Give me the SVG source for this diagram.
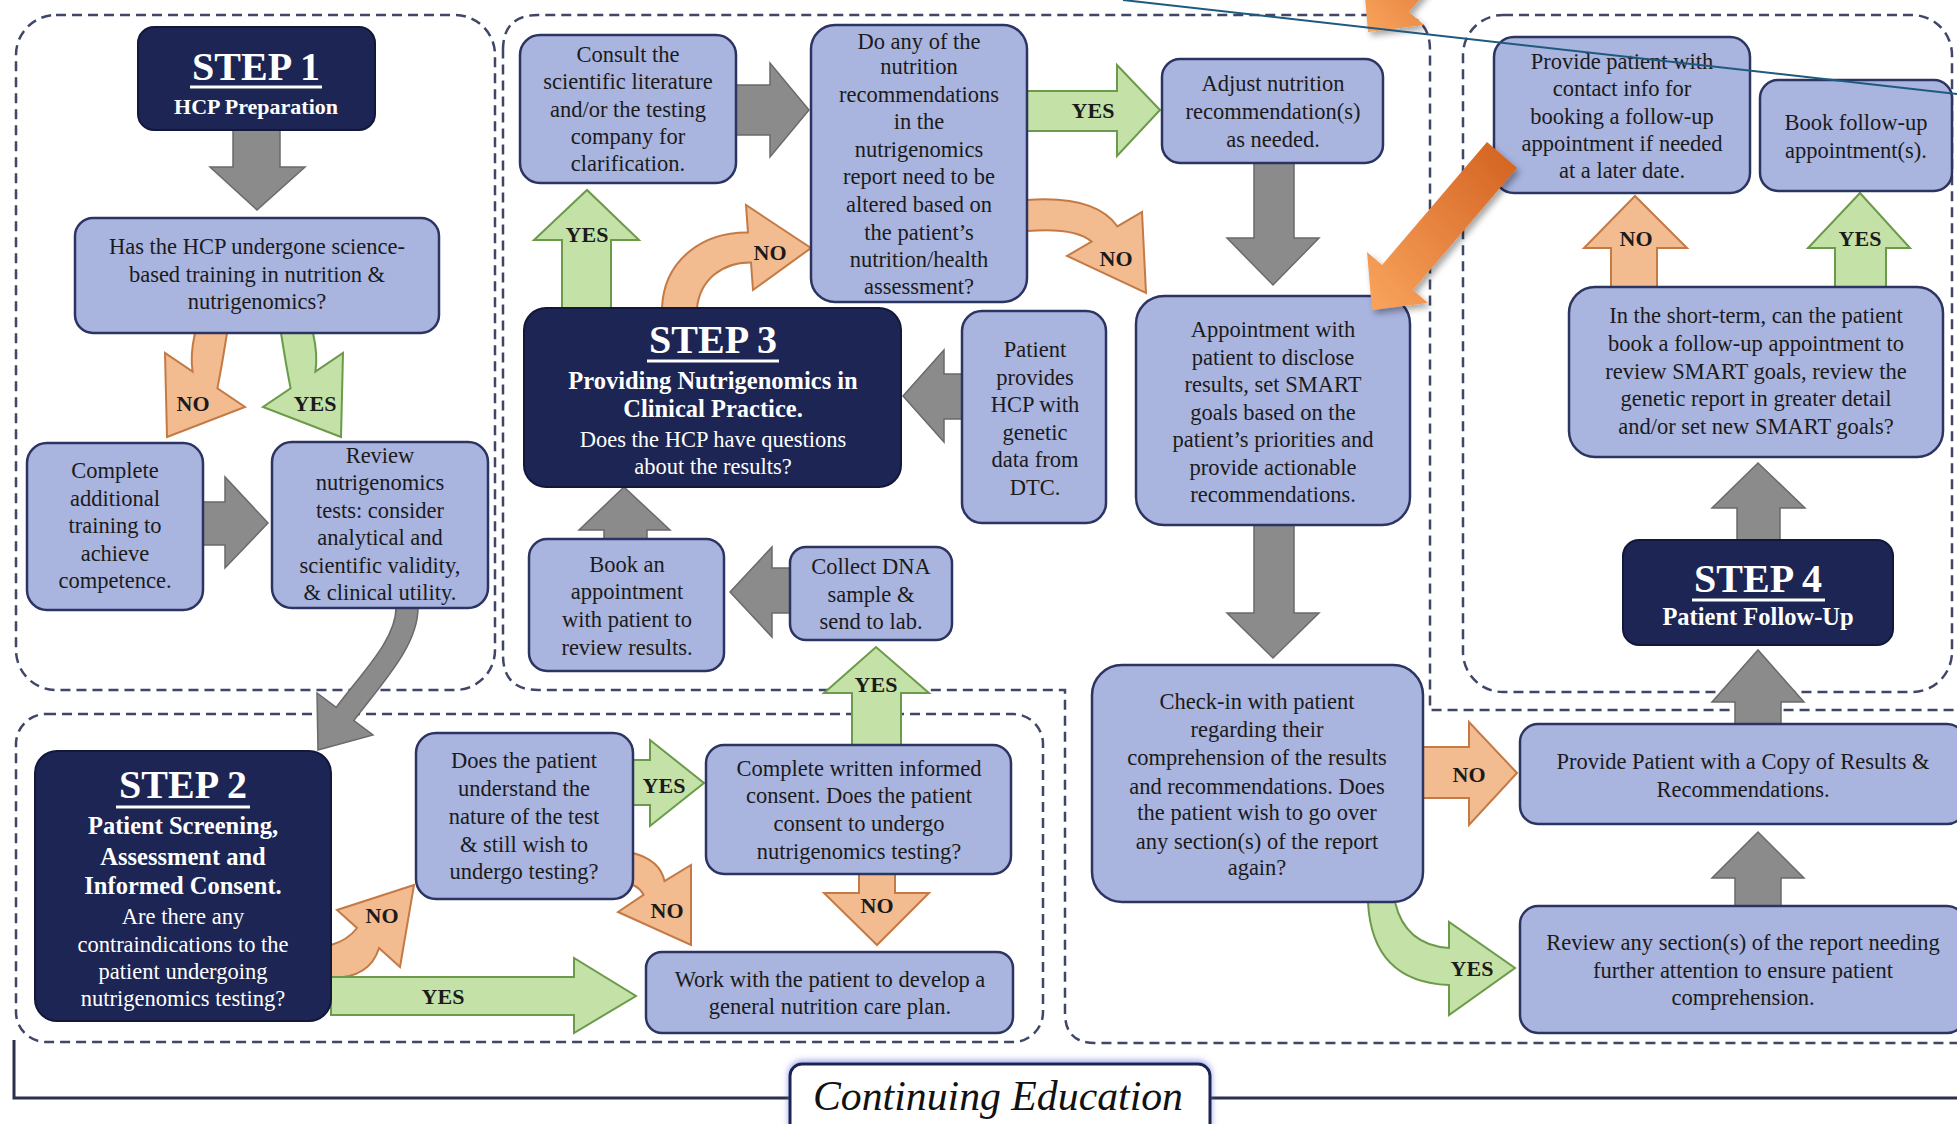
<svg xmlns="http://www.w3.org/2000/svg" width="1957" height="1124" viewBox="0 0 1957 1124">
<style>
.region{fill:none;stroke:#3f4668;stroke-width:2.5;stroke-dasharray:10 6}
.box{fill:#a9b4df;stroke:#2c3462;stroke-width:2.5}
.step{fill:#1c2553;stroke:#11183a;stroke-width:2}
.gray{fill:#8b8b8b;stroke:#6a6a6a;stroke-width:1.5}
.no{fill:#f3bb90;stroke:#c47a45;stroke-width:2}
.yes{fill:#c4e1a7;stroke:#6b9a4a;stroke-width:2}
text{font-family:"Liberation Serif","Times New Roman",serif}
.t{font-size:22.5px;fill:#1b1b1b;text-anchor:middle}
.st{font-size:40px;font-weight:bold;fill:#ffffff;text-anchor:middle}
.sb{font-size:24.5px;font-weight:bold;fill:#ffffff;text-anchor:middle}
.sw{font-size:22.5px;fill:#ffffff;text-anchor:middle}
.lb{font-size:22px;font-weight:bold;fill:#1b1b1b;text-anchor:middle}
.ul{stroke:#ffffff;stroke-width:3}
</style>
<defs>
<linearGradient id="og" x1="1" y1="0" x2="0" y2="1">
<stop offset="0" stop-color="#d2601e"/>
<stop offset="1" stop-color="#f9a55e"/>
</linearGradient>
<filter id="sh" x="-20%" y="-20%" width="140%" height="140%">
<feDropShadow dx="3" dy="4" stdDeviation="3" flood-color="#000" flood-opacity="0.35"/>
</filter>
<filter id="glow" x="-10%" y="-30%" width="120%" height="160%">
<feDropShadow dx="0" dy="-2" stdDeviation="3" flood-color="#5a6bd0" flood-opacity="0.6"/>
</filter>
</defs>
<rect width="1957" height="1124" fill="#ffffff"/>

<g id="regions">
<rect class="region" x="16" y="15" width="479" height="675" rx="40"/>
<rect class="region" x="16" y="714" width="1027" height="328" rx="30"/>
<rect class="region" x="1463" y="15" width="489" height="677" rx="40"/>
<path class="region" d="M503,50 Q503,15 538,15 L1395,15 Q1430,15 1430,50 L1430,710 L1985,710 L1985,1043 L1095,1043 Q1065,1043 1065,1013 L1065,690 L538,690 Q503,690 503,655 Z"/>
</g>

<g id="continuing-education">
<path d="M14,1040 L14,1098 L790,1098 M1210,1098 L1957,1098" fill="none" stroke="#2a2f4a" stroke-width="3"/>
<rect x="790" y="1064" width="420" height="80" rx="12" fill="#ffffff" stroke="#1b2452" stroke-width="3" filter="url(#glow)"/>
<text x="998" y="1110" font-size="42" font-style="italic" fill="#111" text-anchor="middle" textLength="370" lengthAdjust="spacingAndGlyphs">Continuing Education</text>
</g>

<g id="connectors">
<!-- Step 1 -->
<polygon class="gray" points="233,130 280,130 280,167 305,167 257,210 210,167 233,167"/>
<path class="no" d="M195,333 Q190,355 192.6,371.6 L165,353 L167,437 L245,407 L217.4,388.4 Q222,365 227,333 Z"/>
<text class="lb" x="193" y="411">NO</text>
<path class="yes" d="M313,333 Q318,355 315.4,371.6 L343,353 L341,437 L263,407 L290.6,388.4 Q286,365 281,333 Z"/>
<text class="lb" x="315" y="411">YES</text>
<polygon class="gray" points="203,502 225,502 225,477 268,523 225,568 225,545 203,545"/>
<path class="gray" d="M396,608 C396,640 360,675 336.2,707.4 L317,693 L318,750 L373,735 L353.8,720.6 C384,681 418,645 418,608 Z"/>
<!-- Step 2 -->
<path class="no" d="M331,945 Q348,940 357,928 L337,910 L414,885 L400,967 L379,948 Q370,978 331,978 Z"/>
<text class="lb" x="382" y="923">NO</text>
<polygon class="yes" points="331,977 574,977 574,958 636,996 574,1033 574,1015 331,1015"/>
<text class="lb" x="443" y="1004">YES</text>
<polygon class="yes" points="633,760 650,760 650,740 704,783 650,826 650,805 633,805"/>
<text class="lb" x="664" y="793">YES</text>
<path class="no" d="M633,853 Q660,860 664.5,881.2 L691,865 L691,945 L618,912 L643.5,894.8 Q640,888 633,885 Z"/>
<text class="lb" x="667" y="918">NO</text>
<polygon class="no" points="859,874 895,874 895,893 929,893 877,945 824,893 859,893"/>
<text class="lb" x="877" y="913">NO</text>
<polygon class="yes" points="852,745 852,693 824,693 876,647 929,693 901,693 901,745"/>
<text class="lb" x="876" y="692">YES</text>
<!-- Step 3 -->
<polygon class="gray" points="604,539 604,530 579,530 624,487 670,530 647,530 647,539"/>
<polygon class="gray" points="790,568 772,568 772,547 730,592 772,637 772,613 790,613"/>
<polygon class="gray" points="962,374 944,374 944,350 903,396 944,442 944,419 962,419"/>
<polygon class="yes" points="562,308 562,240 534,240 587,190 639,240 611,240 611,308"/>
<text class="lb" x="587" y="242">YES</text>
<path class="no" d="M662,308 C664,258 705,232 748,232.6 L746,205 L811,248 L753,290 L751,262.4 C722,262 700,280 697,308 Z"/>
<text class="lb" x="770" y="260">NO</text>
<polygon class="gray" points="736,85 770,85 770,63 809,110 770,157 770,135 736,135"/>
<polygon class="yes" points="1027,91 1117,91 1117,65 1160,110 1117,156 1117,131 1027,131"/>
<text class="lb" x="1093" y="118">YES</text>
<path class="no" d="M1027,200 Q1095,195 1117.4,226.4 L1142,212 L1146,293 L1067,256 L1091.6,241.6 Q1075,227 1027,231 Z"/>
<text class="lb" x="1116" y="266">NO</text>
<polygon class="gray" points="1254,163 1294,163 1294,238 1319,238 1273,285 1227,238 1254,238"/>
<polygon class="gray" points="1254,524 1294,524 1294,613 1319,613 1273,658 1227,613 1254,613"/>
<polygon class="no" points="1423,747 1469,747 1469,722 1517,773 1469,825 1469,798 1423,798"/>
<text class="lb" x="1469" y="782">NO</text>
<path class="yes" d="M1368,902 Q1372,982 1449,985 L1449,1015 L1515,968 L1449,922 L1449,948 Q1405,945 1395,902 Z"/>
<text class="lb" x="1472" y="976">YES</text>
<polygon class="gray" points="1735,906 1735,878 1712,878 1758,832 1804,878 1781,878 1781,906"/>
<polygon class="gray" points="1735,725 1735,702 1712,702 1758,650 1804,702 1781,702 1781,725"/>
<!-- Step 4 -->
<polygon class="gray" points="1737,540 1737,508 1712,508 1758,463 1805,508 1780,508 1780,540"/>
<polygon class="no" points="1611,287 1611,248 1584,248 1635,196 1687,248 1657,248 1657,287"/>
<text class="lb" x="1636" y="246">NO</text>
<polygon class="yes" points="1835,287 1835,248 1808,248 1860,193 1910,248 1886,248 1886,287"/>
<text class="lb" x="1860" y="246">YES</text>
</g>

<g id="step1"><rect class="step" x="138" y="27" width="237" height="103" rx="16"/>
<text class="st" x="256" y="80">STEP 1</text><line class="ul" x1="190" y1="87" x2="322" y2="87"/>
<text class="sb" x="256" y="114" style="font-size:22px">HCP Preparation</text></g>

<g id="q-training"><rect class="box" x="75" y="218" width="364" height="115" rx="18"/>
<text class="t" x="257" y="254">Has the HCP undergone science-</text>
<text class="t" x="257" y="282">based training in nutrition &amp;</text>
<text class="t" x="257" y="309">nutrigenomics?</text></g>

<g id="complete-training"><rect class="box" x="27" y="443" width="176" height="167" rx="20"/>
<text class="t" x="115" y="478">Complete</text>
<text class="t" x="115" y="506">additional</text>
<text class="t" x="115" y="533">training to</text>
<text class="t" x="115" y="561">achieve</text>
<text class="t" x="115" y="588">competence.</text></g>

<g id="review-tests"><rect class="box" x="272" y="442" width="216" height="166" rx="20"/>
<text class="t" x="380" y="463">Review</text>
<text class="t" x="380" y="490">nutrigenomics</text>
<text class="t" x="380" y="518">tests: consider</text>
<text class="t" x="380" y="545">analytical and</text>
<text class="t" x="380" y="573">scientific validity,</text>
<text class="t" x="380" y="600">&amp; clinical utility.</text></g>

<g id="step2"><rect class="step" x="35" y="751" width="296" height="270" rx="22"/>
<text class="st" x="183" y="798">STEP 2</text><line class="ul" x1="116" y1="807" x2="250" y2="807"/>
<text class="sb" x="183" y="834">Patient Screening,</text>
<text class="sb" x="183" y="865">Assessment and</text>
<text class="sb" x="183" y="894">Informed Consent.</text>
<text class="sw" x="183" y="924">Are there any</text>
<text class="sw" x="183" y="952">contraindications to the</text>
<text class="sw" x="183" y="979">patient undergoing</text>
<text class="sw" x="183" y="1006">nutrigenomics testing?</text></g>

<g id="q-understand"><rect class="box" x="416" y="733" width="217" height="166" rx="20"/>
<text class="t" x="524" y="768">Does the patient</text>
<text class="t" x="524" y="796">understand the</text>
<text class="t" x="524" y="824">nature of the test</text>
<text class="t" x="524" y="852">&amp; still wish to</text>
<text class="t" x="524" y="879">undergo testing?</text></g>

<g id="q-consent"><rect class="box" x="706" y="745" width="305" height="129" rx="18"/>
<text class="t" x="859" y="776">Complete written informed</text>
<text class="t" x="859" y="803">consent. Does the patient</text>
<text class="t" x="859" y="831">consent to undergo</text>
<text class="t" x="859" y="859">nutrigenomics testing?</text></g>

<g id="care-plan"><rect class="box" x="646" y="952" width="367" height="81" rx="16"/>
<text class="t" x="830" y="987">Work with the patient to develop a</text>
<text class="t" x="830" y="1014">general nutrition care plan.</text></g>

<g id="consult"><rect class="box" x="520" y="35" width="216" height="148" rx="20"/>
<text class="t" x="628" y="62">Consult the</text>
<text class="t" x="628" y="89">scientific literature</text>
<text class="t" x="628" y="117">and/or the testing</text>
<text class="t" x="628" y="144">company for</text>
<text class="t" x="628" y="171">clarification.</text></g>

<g id="q-alter"><rect class="box" x="811" y="25" width="216" height="277" rx="24"/>
<text class="t" x="919" y="49">Do any of the</text>
<text class="t" x="919" y="74">nutrition</text>
<text class="t" x="919" y="102">recommendations</text>
<text class="t" x="919" y="129">in the</text>
<text class="t" x="919" y="157">nutrigenomics</text>
<text class="t" x="919" y="184">report need to be</text>
<text class="t" x="919" y="212">altered based on</text>
<text class="t" x="919" y="240">the patient’s</text>
<text class="t" x="919" y="267">nutrition/health</text>
<text class="t" x="919" y="294">assessment?</text></g>

<g id="adjust"><rect class="box" x="1162" y="59" width="221" height="104" rx="18"/>
<text class="t" x="1273" y="91">Adjust nutrition</text>
<text class="t" x="1273" y="119">recommendation(s)</text>
<text class="t" x="1273" y="147">as needed.</text></g>

<g id="step3"><rect class="step" x="524" y="308" width="377" height="179" rx="22"/>
<text class="st" x="713" y="353">STEP 3</text><line class="ul" x1="647" y1="361" x2="779" y2="361"/>
<text class="sb" x="713" y="389">Providing Nutrigenomics in</text>
<text class="sb" x="713" y="417">Clinical Practice.</text>
<text class="sw" x="713" y="447">Does the HCP have questions</text>
<text class="sw" x="713" y="474">about the results?</text></g>

<g id="dtc"><rect class="box" x="962" y="311" width="144" height="212" rx="20"/>
<text class="t" x="1035" y="357">Patient</text>
<text class="t" x="1035" y="385">provides</text>
<text class="t" x="1035" y="412">HCP with</text>
<text class="t" x="1035" y="440">genetic</text>
<text class="t" x="1035" y="467">data from</text>
<text class="t" x="1035" y="495">DTC.</text></g>

<g id="book-appointment"><rect class="box" x="529" y="539" width="195" height="132" rx="18"/>
<text class="t" x="627" y="572">Book an</text>
<text class="t" x="627" y="599">appointment</text>
<text class="t" x="627" y="627">with patient to</text>
<text class="t" x="627" y="655">review results.</text></g>

<g id="collect-dna"><rect class="box" x="790" y="547" width="162" height="93" rx="16"/>
<text class="t" x="871" y="574">Collect DNA</text>
<text class="t" x="871" y="602">sample &amp;</text>
<text class="t" x="871" y="629">send to lab.</text></g>

<g id="appointment"><rect class="box" x="1136" y="296" width="274" height="229" rx="28"/>
<text class="t" x="1273" y="337">Appointment with</text>
<text class="t" x="1273" y="365">patient to disclose</text>
<text class="t" x="1273" y="392">results, set SMART</text>
<text class="t" x="1273" y="420">goals based on the</text>
<text class="t" x="1273" y="447">patient’s priorities and</text>
<text class="t" x="1273" y="475">provide actionable</text>
<text class="t" x="1273" y="502">recommendations.</text></g>

<g id="check-in"><rect class="box" x="1092" y="665" width="331" height="237" rx="30"/>
<text class="t" x="1257" y="709">Check-in with patient</text>
<text class="t" x="1257" y="737">regarding their</text>
<text class="t" x="1257" y="765">comprehension of the results</text>
<text class="t" x="1257" y="794">and recommendations. Does</text>
<text class="t" x="1257" y="820">the patient wish to go over</text>
<text class="t" x="1257" y="849">any section(s) of the report</text>
<text class="t" x="1257" y="875">again?</text></g>

<g id="copy-results"><rect class="box" x="1520" y="724" width="445" height="100" rx="18"/>
<text class="t" x="1743" y="769">Provide Patient with a Copy of Results &amp;</text>
<text class="t" x="1743" y="797">Recommendations.</text></g>

<g id="review-sections"><rect class="box" x="1520" y="906" width="445" height="127" rx="18"/>
<text class="t" x="1743" y="950">Review any section(s) of the report needing</text>
<text class="t" x="1743" y="978">further attention to ensure patient</text>
<text class="t" x="1743" y="1005">comprehension.</text></g>

<g id="step4"><rect class="step" x="1623" y="540" width="270" height="105" rx="16"/>
<text class="st" x="1758" y="592">STEP 4</text><line class="ul" x1="1692" y1="600" x2="1825" y2="600"/>
<text class="sb" x="1758" y="625">Patient Follow-Up</text></g>

<g id="q-short-term"><rect class="box" x="1569" y="287" width="374" height="170" rx="26"/>
<text class="t" x="1756" y="323">In the short-term, can the patient</text>
<text class="t" x="1756" y="351">book a follow-up appointment to</text>
<text class="t" x="1756" y="379">review SMART goals, review the</text>
<text class="t" x="1756" y="406">genetic report in greater detail</text>
<text class="t" x="1756" y="434">and/or set new SMART goals?</text></g>

<g id="contact-info"><rect class="box" x="1494" y="37" width="256" height="156" rx="20"/>
<text class="t" x="1622" y="69">Provide patient with</text>
<text class="t" x="1622" y="96">contact info for</text>
<text class="t" x="1622" y="124">booking a follow-up</text>
<text class="t" x="1622" y="151">appointment if needed</text>
<text class="t" x="1622" y="178">at a later date.</text></g>

<g id="book-follow-up"><rect class="box" x="1760" y="80" width="192" height="111" rx="18"/>
<text class="t" x="1856" y="130">Book follow-up</text>
<text class="t" x="1856" y="158">appointment(s).</text></g>

<g id="annotations">
<polygon points="1378,-13 1363,-26 1368,32 1424,25 1409,12 1470,-60 1440,-80" fill="url(#og)" filter="url(#sh)"/>
<polygon points="1487,142 1517,168 1413,290 1428,303 1372,310 1367,252 1382,265" fill="url(#og)" filter="url(#sh)"/>
<line x1="1123" y1="0" x2="1957" y2="94" stroke="#1e5a80" stroke-width="2"/>
</g>
</svg>
